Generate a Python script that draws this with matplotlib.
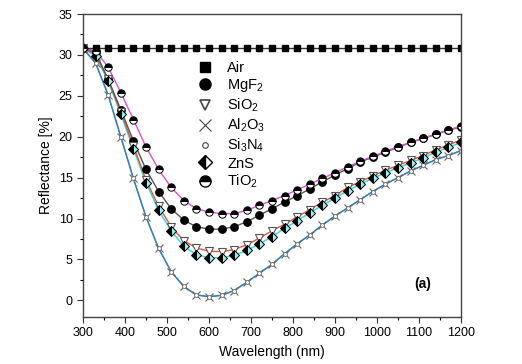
# Reflectance spectra of bare Si (Air) and single-layer coatings
import matplotlib.pyplot as plt
from matplotlib.lines import Line2D

plt.rcParams['font.family'] = ['Liberation Sans', 'DejaVu Sans']
plt.rcParams['mathtext.default'] = 'regular'

wavelength = list(range(300, 1201, 30))

air = [30.9] * 31
mgf2 = [30.8, 30.3, 27.0, 23.3, 19.5, 16.0, 13.3, 11.2, 9.8, 9.0, 8.7, 8.7, 9.0, 9.6, 10.4, 11.2,
        12.0, 12.8, 13.6, 14.5, 15.3, 16.1, 16.9, 17.5, 18.1, 18.7, 19.3, 19.8, 20.3, 20.8, 21.2]
sio2 = [30.8, 30.1, 27.0, 23.0, 18.9, 14.7, 11.5, 9.0, 7.3, 6.4, 6.0, 5.95, 6.2, 6.8, 7.6, 8.5,
        9.3, 10.2, 11.1, 12.0, 12.8, 13.8, 14.5, 15.2, 15.9, 16.5, 17.1, 17.7, 18.4, 19.0, 19.6]
al2o3 = [30.8, 29.0, 25.1, 20.0, 14.9, 10.2, 6.35, 3.5, 1.7, 0.65, 0.45, 0.6, 1.2, 2.2, 3.3, 4.4,
         5.7, 6.9, 8.0, 9.2, 10.3, 11.3, 12.3, 13.3, 14.2, 15.0, 15.8, 16.5, 17.2, 17.7, 18.3]
si3n4 = [30.8, 29.0, 25.1, 20.0, 14.9, 10.2, 6.35, 3.5, 1.7, 0.65, 0.45, 0.6, 1.2, 2.2, 3.3, 4.4,
         5.7, 6.9, 8.0, 9.2, 10.3, 11.3, 12.3, 13.3, 14.2, 15.0, 15.8, 16.5, 17.2, 17.7, 18.3]
zns = [30.8, 29.9, 26.8, 22.8, 18.5, 14.4, 11.0, 8.5, 6.6, 5.6, 5.2, 5.2, 5.5, 6.1, 6.9, 7.8,
       8.8, 9.7, 10.7, 11.6, 12.5, 13.4, 14.2, 14.9, 15.6, 16.2, 16.8, 17.4, 18.1, 18.7, 19.3]
tio2 = [30.8, 30.5, 28.5, 25.4, 22.1, 18.75, 16.0, 13.8, 12.2, 11.2, 10.8, 10.6, 10.6, 11.0, 11.6, 12.2,
        12.8, 13.5, 14.2, 14.9, 15.6, 16.3, 17.0, 17.6, 18.2, 18.8, 19.3, 19.8, 20.3, 20.8, 21.3]

fig = plt.figure(figsize=(5.22, 3.64), dpi=100)
ax = fig.add_axes([0.159, 0.130, 0.724, 0.8315])

# lines first, markers on top
ax.plot(wavelength, si3n4, color='#5cb85c', lw=0.8)
ax.plot(wavelength, al2o3, color='#3a7cc0', lw=1.1)
ax.plot(wavelength, zns, color='#3fd8d8', lw=1.1)
ax.plot(wavelength, sio2, color='#e8553f', lw=1.0)
ax.plot(wavelength, mgf2, color='#555555', lw=1.0)
ax.plot(wavelength, tio2, color='#e050d8', lw=1.0)
ax.plot(wavelength, air, color='#333333', lw=1.0)

ms = dict(linestyle='none')
ax.plot(wavelength, air, marker='s', ms=4.8, color='black', **ms)
ax.plot(wavelength, mgf2, marker='o', ms=5.3, color='black', **ms)
ax.plot(wavelength, sio2, marker='v', ms=5.5, mfc='white', mec='#555555', mew=0.8, **ms)
ax.plot(wavelength, al2o3, marker='x', ms=5.5, color='#666666', mew=0.8, **ms)
ax.plot(wavelength, si3n4, marker='o', ms=2.8, mfc='white', mec='#666666', mew=0.6, **ms)
ax.plot(wavelength, zns, marker='D', ms=5, fillstyle='left', mfc='black', mfcalt='#9ee', mec='black', mew=0.7, **ms)
ax.plot(wavelength, tio2, marker='o', ms=5.3, fillstyle='top', mfc='black', mfcalt='white', mec='black', mew=0.7, **ms)

handles = [
    Line2D([], [], marker='s', ms=7, color='black', ls='none'),
    Line2D([], [], marker='o', ms=8, color='black', ls='none'),
    Line2D([], [], marker='v', ms=7, mfc='white', mec='#444444', mew=1.2, ls='none'),
    Line2D([], [], marker='x', ms=8, color='#444444', mew=0.8, ls='none'),
    Line2D([], [], marker='o', ms=4, mfc='white', mec='#444444', mew=0.8, ls='none'),
    Line2D([], [], marker='D', ms=7, fillstyle='left', mfc='black', mfcalt='white', mec='black', ls='none'),
    Line2D([], [], marker='o', ms=8, fillstyle='top', mfc='black', mfcalt='white', mec='black', ls='none'),
]
labels = ['Air', 'MgF$_2$', 'SiO$_2$', 'Al$_2$O$_3$', 'Si$_3$N$_4$', 'ZnS', 'TiO$_2$']
ax.legend(handles, labels, loc='upper left', bbox_to_anchor=(0.30, 0.845), frameon=False,
          fontsize=10.5, labelspacing=0.17, handlelength=1.2, handletextpad=0.9,
          borderpad=0, borderaxespad=0)

ax.text(1110, 2.0, '(a)', fontsize=10, fontweight='bold', ha='center', va='center')

ax.set_xlim(300, 1200)
ax.set_ylim(-2, 35)
ax.set_xticks(range(300, 1201, 100))
ax.set_xticks(range(350, 1200, 100), minor=True)
ax.set_yticks(range(0, 36, 5))
ax.set_yticks([2.5, 7.5, 12.5, 17.5, 22.5, 27.5, 32.5], minor=True)
ax.tick_params(labelsize=9, length=4, width=0.8, color='#333333')
ax.tick_params(which='minor', length=2.5, width=0.8)
for s in ax.spines.values():
    s.set_color('#444444')
    s.set_linewidth(1.0)

ax.set_xlabel('Wavelength (nm)', fontsize=10)
ax.set_ylabel('Reflectance [%]', fontsize=10)

fig.savefig('out.png', dpi=100)
